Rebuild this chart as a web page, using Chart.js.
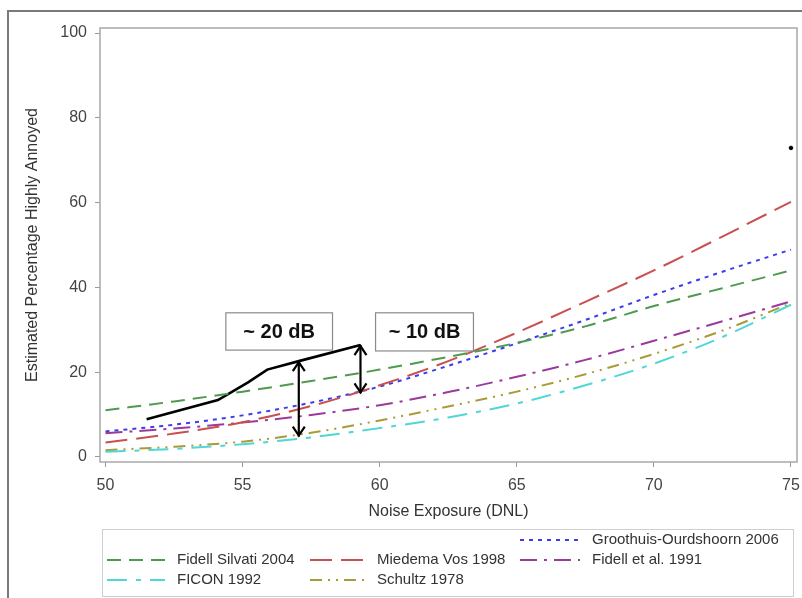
<!DOCTYPE html>
<html><head><meta charset="utf-8">
<script src="https://cdn.jsdelivr.net/npm/chart.js@4/dist/chart.umd.min.js"></script>
<style>html,body{margin:0;padding:0;background:#fff;}#wrap{position:relative;width:802px;height:598px;}canvas{display:block;}</style>
</head><body><div id="wrap"><canvas id="c" width="802" height="598"></canvas></div>
<script>
// ---- data ----
const dnl = [50, 52.5, 55, 57.5, 60, 62.5, 65, 67.5, 70, 72.5, 75];
const fidellSilvati2004 = [11.0, 13.1, 15.4, 17.9, 20.6, 23.6, 26.9, 30.8, 35.6, 39.8, 44.0];
const miedemaVos1998   = [3.4, 5.5, 8.2, 12.0, 16.9, 22.6, 29.3, 36.6, 44.0, 52.0, 60.2];
const groothuis2006    = [6.0, 7.6, 9.8, 12.8, 16.6, 21.5, 26.8, 32.3, 38.2, 43.7, 48.9];
const fidell1991       = [5.6, 6.7, 8.1, 9.9, 12.2, 15.3, 18.9, 22.9, 27.4, 32.0, 36.7];
const ficon1992        = [1.2, 1.9, 3.0, 4.6, 6.8, 9.3, 12.6, 16.9, 22.0, 28.3, 35.9];
const schultz1978      = [1.6, 2.4, 3.6, 5.7, 8.6, 11.9, 15.4, 19.5, 24.3, 29.8, 36.3];
const seriesNames = ['Fidell Silvati 2004', 'Miedema Vos 1998', 'Groothuis-Ourdshoorn 2006', 'Fidell et al. 1991', 'FICON 1992', 'Schultz 1978'];
const xTicks = [50, 55, 60, 65, 70, 75];
const yTicks = [0, 20, 40, 60, 80, 100];
const xTitle = 'Noise Exposure (DNL)';
const yTitle = 'Estimated Percentage Highly Annoyed';
// annotation: black line, arrows, labels
const gapLineX = [51.5, 54.1, 55.2, 55.9, 57.05, 59.3];
const gapLineY = [8.9, 13.4, 17.6, 20.6, 22.6, 26.4];
const arrowX = [57.05, 59.3];
const arrowTop = [22.6, 26.4];
const arrowBottom = [4.8, 15.0];
const boxLabels = ['~ 20 dB', '~ 10 dB'];
const strayX = [75];
const strayY = [72.9];

// ---- styles / layout ----
const styles = [
  {color: '#4f9a4f', dash: [14, 8]},
  {color: '#c8504f', dash: [22, 9]},
  {color: '#3b3bf0', dash: [4, 5]},
  {color: '#9c3a9c', dash: [17, 7, 3, 7]},
  {color: '#4fd6d6', dash: [20, 9, 5, 9]},
  {color: '#a99b36', dash: [12, 6, 2, 6, 2, 6]}
];
const seriesData = [fidellSilvati2004, miedemaVos1998, groothuis2006, fidell1991, ficon1992, schultz1978];
const boxRects = [ {x0: 54.39, x1: 58.28, y0: 25.2, y1: 34.0}, {x0: 59.85, x1: 63.42, y0: 25.0, y1: 34.0} ];
const legendRows = [[null, null, 2], [0, 1, 3], [4, 5, null]];
const legendCols = [{s: 107, e: 165, t: 177}, {s: 310, e: 367, t: 377}, {s: 520, e: 580, t: 592}];
const legendRowY = [540, 560, 580];

const datasets = seriesData.map((arr, i) => ({
  label: seriesNames[i],
  data: dnl.map((x, k) => ({x: x, y: arr[k]})),
  borderColor: styles[i].color,
  borderDash: styles[i].dash,
  borderWidth: 2,
  pointRadius: 0,
  fill: false,
  cubicInterpolationMode: 'monotone'
}));
datasets.push({
  label: 'gap',
  data: gapLineX.map((x, k) => ({x: x, y: gapLineY[k]})),
  borderColor: '#000', borderWidth: 2.6, pointRadius: 0, fill: false, tension: 0
});
datasets.push({
  label: 'dot', type: 'scatter',
  data: strayX.map((x, k) => ({x: x, y: strayY[k]})),
  backgroundColor: '#000', borderColor: '#000', pointRadius: 1.8
});

const FONT = '"Liberation Sans", Arial, sans-serif';

const custom = {
  id: 'custom',
  beforeDraw(chart) {
    const c = chart.ctx;
    c.save();
    c.fillStyle = '#fff'; c.fillRect(0, 0, chart.width, chart.height);
    c.strokeStyle = '#7a7a7a'; c.lineWidth = 2;
    c.beginPath(); c.moveTo(8, 598); c.lineTo(8, 11); c.lineTo(802, 11); c.stroke();
    c.restore();
  },
  beforeDatasetsDraw(chart) {
    const a = chart.chartArea, c = chart.ctx;
    c.save(); c.strokeStyle = '#a8a8a8'; c.lineWidth = 1.5;
    c.strokeRect(a.left, a.top, a.right - a.left, a.bottom - a.top);
    c.restore();
  },
  afterDatasetsDraw(chart) {
    const c = chart.ctx, xs = chart.scales.x, ys = chart.scales.y;
    c.save();
    c.strokeStyle = '#000'; c.lineWidth = 2.2; c.setLineDash([]);
    arrowX.forEach((ax, i) => {
      const px = xs.getPixelForValue(ax), t = ys.getPixelForValue(arrowTop[i]), b = ys.getPixelForValue(arrowBottom[i]);
      c.beginPath(); c.moveTo(px, t); c.lineTo(px, b); c.stroke();
      c.beginPath(); c.moveTo(px - 6, t + 10); c.lineTo(px, t + 1); c.lineTo(px + 6, t + 10); c.stroke();
      c.beginPath(); c.moveTo(px - 6, b - 10); c.lineTo(px, b - 1); c.lineTo(px + 6, b - 10); c.stroke();
    });
    boxRects.forEach((r, i) => {
      const x0 = xs.getPixelForValue(r.x0), x1 = xs.getPixelForValue(r.x1);
      const y0 = ys.getPixelForValue(r.y1), y1 = ys.getPixelForValue(r.y0);
      c.fillStyle = '#fff'; c.fillRect(x0, y0, x1 - x0, y1 - y0);
      c.strokeStyle = '#8a8a8a'; c.lineWidth = 1.2; c.strokeRect(x0, y0, x1 - x0, y1 - y0);
      c.fillStyle = '#111'; c.font = 'bold 20px ' + FONT;
      c.textAlign = 'center'; c.textBaseline = 'middle';
      c.fillText(boxLabels[i], (x0 + x1) / 2, (y0 + y1) / 2 + 1);
    });
    c.restore();
  },
  afterDraw(chart) {
    const c = chart.ctx, a = chart.chartArea;
    c.save();
    c.fillStyle = '#333'; c.font = '16px ' + FONT; c.textAlign = 'center'; c.textBaseline = 'middle';
    c.fillText(xTitle, (a.left + a.right) / 2, 512);
    c.translate(33, (a.top + a.bottom) / 2); c.rotate(-Math.PI / 2);
    c.fillText(yTitle, 0, 0);
    c.restore();
    // legend
    c.save();
    c.strokeStyle = '#cfcfcf'; c.lineWidth = 1;
    c.strokeRect(102.5, 529.5, 691, 67);
    c.font = '15px ' + FONT; c.textBaseline = 'middle'; c.textAlign = 'left';
    legendRows.forEach((row, r) => {
      row.forEach((idx, col) => {
        if (idx === null) return;
        const L = legendCols[col], y = legendRowY[r];
        c.strokeStyle = styles[idx].color; c.lineWidth = 2; c.setLineDash(styles[idx].dash);
        c.beginPath(); c.moveTo(L.s, y); c.lineTo(L.e, y); c.stroke();
        c.setLineDash([]);
        c.fillStyle = '#333';
        c.fillText(seriesNames[idx], L.t, y);
      });
    });
    c.restore();
  }
};

new Chart(document.getElementById('c'), {
  type: 'line',
  data: {datasets: datasets},
  options: {
    responsive: false, animation: false, events: [],
    layout: {padding: {left: 0, top: 28, right: 4, bottom: 0}},
    plugins: {legend: {display: false}, tooltip: {enabled: false}},
    scales: {
      x: {
        type: 'linear', min: 49.8, max: 75.22,
        afterBuildTicks: s => { s.ticks = xTicks.map(v => ({value: v})); },
        afterFit: s => { s.height = 136; s.paddingLeft = 0; s.paddingRight = 0; },
        ticks: {font: {size: 16, family: FONT}, color: '#444', padding: 9, maxRotation: 0, autoSkip: false},
        grid: {drawOnChartArea: false, drawTicks: true, tickLength: 5, color: '#999'},
        border: {display: false}
      },
      y: {
        type: 'linear', min: -1.2, max: 101.2,
        afterBuildTicks: s => { s.ticks = yTicks.map(v => ({value: v})); },
        afterFit: s => { s.width = 100; s.paddingTop = 0; s.paddingBottom = 0; },
        ticks: {font: {size: 16, family: FONT}, color: '#444', padding: 8},
        grid: {drawOnChartArea: false, drawTicks: true, tickLength: 5, color: '#999'},
        border: {display: false}
      }
    }
  },
  plugins: [custom]
});
</script></body></html>
